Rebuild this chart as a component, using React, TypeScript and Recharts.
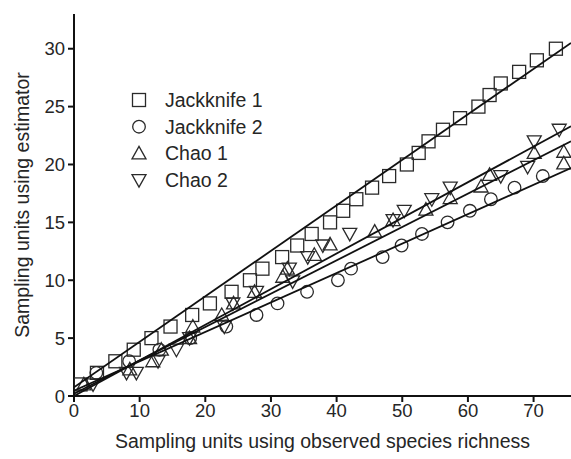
import React from 'react';
import { ScatterChart, Scatter, XAxis, YAxis } from 'recharts';

const jk1X = [1, 3.5, 6.3, 9.1, 11.8, 14.7, 18, 20.7, 24, 26.8, 28.7, 31.7, 34, 36.2, 39, 41, 43, 45.4, 48, 50.7, 52.5, 54, 56.2, 58.8, 61.6, 63.3, 65, 67.8, 70.5, 73.4];
const jk1Y = [1, 2, 3, 4, 5, 6, 7, 8, 9, 10, 11, 12, 13, 14, 15, 16, 17, 18, 19, 20, 21, 22, 23, 24, 25, 26, 27, 28, 29, 30];

const jk2X = [3.4, 8.4, 13, 17.7, 23.2, 27.8, 31, 35.5, 40.2, 42.2, 47, 49.9, 53, 56.9, 60.3, 63.5, 67.1, 71.4];
const jk2Y = [2, 3, 4, 5, 6, 7, 8, 9, 10, 11, 12, 13, 14, 15, 16, 17, 18, 19];

const chao1X = [1.5, 8.5, 12, 13.3, 17.6, 18.1, 22.5, 24.3, 27.5, 31.8, 32.5, 36.6, 39, 45.8, 48.6, 53.6, 57.3, 62, 63.3, 70.1, 74.6, 74.6];
const chao1Y = [1, 2.3, 3, 4, 5, 6, 7, 8, 9, 10.3, 11, 12.2, 13.1, 14.2, 15.2, 16.1, 17.1, 18.1, 19.1, 21, 20.1, 21.1];

const chao2X = [2.9, 8, 9.5, 12.8, 15.6, 17.6, 22.9, 24.2, 27.8, 33.3, 32.8, 35.6, 37.9, 42, 48.6, 50.3, 54.5, 57.3, 65, 69.1, 70.1, 73.9];
const chao2Y = [1, 2, 2, 3, 4, 5, 6, 8, 9, 9.9, 11, 12, 13, 14, 15.2, 16, 17, 18, 19, 19.8, 22, 23];

const fitX = [0, 75.7];
const jk1Fit = [0.75, 30.5];
const jk2Fit = [0.45, 19.7];
const chao1Fit = [0.2, 22];
const chao2Fit = [0, 23.3];

const xTicks = [0, 10, 20, 30, 40, 50, 60, 70];
const yTicks = [0, 5, 10, 15, 20, 25, 30];

const seriesNames = ['Jackknife 1', 'Jackknife 2', 'Chao 1', 'Chao 2'];

const zip = (xs: number[], ys: number[]) => xs.map((x, i) => ({ x, y: ys[i] }));

const STROKE = '#2a2a2a';
const TEXT = '#262626';
const FONT = '"Liberation Sans", Arial, sans-serif';

const Square = (p: any) => (
  <rect x={p.cx - 6.5} y={p.cy - 6.5} width={13} height={13} fill="none" stroke={STROKE} strokeWidth={1.3} />
);
const Circ = (p: any) => <circle cx={p.cx} cy={p.cy} r={6.3} fill="none" stroke={STROKE} strokeWidth={1.3} />;
const TriUp = (p: any) => (
  <path d={`M${p.cx},${p.cy - 7} L${p.cx + 7},${p.cy + 5.5} L${p.cx - 7},${p.cy + 5.5} Z`} fill="none" stroke={STROKE} strokeWidth={1.3} />
);
const TriDown = (p: any) => (
  <path d={`M${p.cx},${p.cy + 7} L${p.cx + 7},${p.cy - 5.5} L${p.cx - 7},${p.cy - 5.5} Z`} fill="none" stroke={STROKE} strokeWidth={1.3} />
);
const NoShape = () => <g />;

const shapes = [Square, Circ, TriUp, TriDown];

const LegendBox = () => (
  <svg width={150} height={110} style={{ position: 'absolute', left: 130, top: 90, overflow: 'visible' }}>
    {seriesNames.map((n, i) => {
      const S = shapes[i];
      const cy = 10 + i * 26.7;
      return (
        <g key={n}>
          <S cx={9} cy={cy} />
          <text x={35} y={cy + 7} fontSize={19.5} fontFamily={FONT} fill={TEXT}>
            {n}
          </text>
        </g>
      );
    })}
  </svg>
);

export default function App() {
  const tickStyle = { fontSize: 18.5, fontFamily: FONT, fill: TEXT };
  return (
    <div style={{ position: 'absolute', left: 0, top: 0, width: 571, height: 459 }}>
      <ScatterChart width={571} height={459} margin={{ top: 14, right: 0, bottom: 8, left: 14 }}>
        <XAxis
          type="number"
          dataKey="x"
          domain={[0, 75.7]}
          ticks={xTicks}
          allowDataOverflow
          tick={tickStyle}
          tickSize={6}
          tickMargin={2}
          height={55}
          axisLine={{ stroke: '#111', strokeWidth: 2 }}
          tickLine={{ stroke: '#111', strokeWidth: 2 }}
          label={{ value: 'Sampling units using observed species richness', position: 'insideBottom', offset: 3, style: { fontSize: 19.5, fontFamily: FONT, fill: TEXT } }}
        />
        <YAxis
          type="number"
          dataKey="y"
          domain={[0, 33]}
          ticks={yTicks}
          allowDataOverflow
          tick={tickStyle}
          tickSize={6}
          tickMargin={3}
          width={60}
          axisLine={{ stroke: '#111', strokeWidth: 2 }}
          tickLine={{ stroke: '#111', strokeWidth: 2 }}
          label={{ value: 'Sampling units using estimator', angle: -90, position: 'insideLeft', offset: 8, style: { fontSize: 19.5, fontFamily: FONT, fill: TEXT, textAnchor: 'middle' } }}
        />
        <Scatter name="Jackknife 1" data={zip(jk1X, jk1Y)} shape={Square} isAnimationActive={false} />
        <Scatter name="Jackknife 2" data={zip(jk2X, jk2Y)} shape={Circ} isAnimationActive={false} />
        <Scatter name="Chao 1" data={zip(chao1X, chao1Y)} shape={TriUp} isAnimationActive={false} />
        <Scatter name="Chao 2" data={zip(chao2X, chao2Y)} shape={TriDown} isAnimationActive={false} />
        <Scatter data={zip(fitX, jk1Fit)} line={{ stroke: '#111', strokeWidth: 1.8 }} shape={NoShape} isAnimationActive={false} legendType="none" />
        <Scatter data={zip(fitX, jk2Fit)} line={{ stroke: '#111', strokeWidth: 1.8 }} shape={NoShape} isAnimationActive={false} legendType="none" />
        <Scatter data={zip(fitX, chao1Fit)} line={{ stroke: '#111', strokeWidth: 1.8 }} shape={NoShape} isAnimationActive={false} legendType="none" />
        <Scatter data={zip(fitX, chao2Fit)} line={{ stroke: '#111', strokeWidth: 1.8 }} shape={NoShape} isAnimationActive={false} legendType="none" />
      </ScatterChart>
      <LegendBox />
    </div>
  );
}
